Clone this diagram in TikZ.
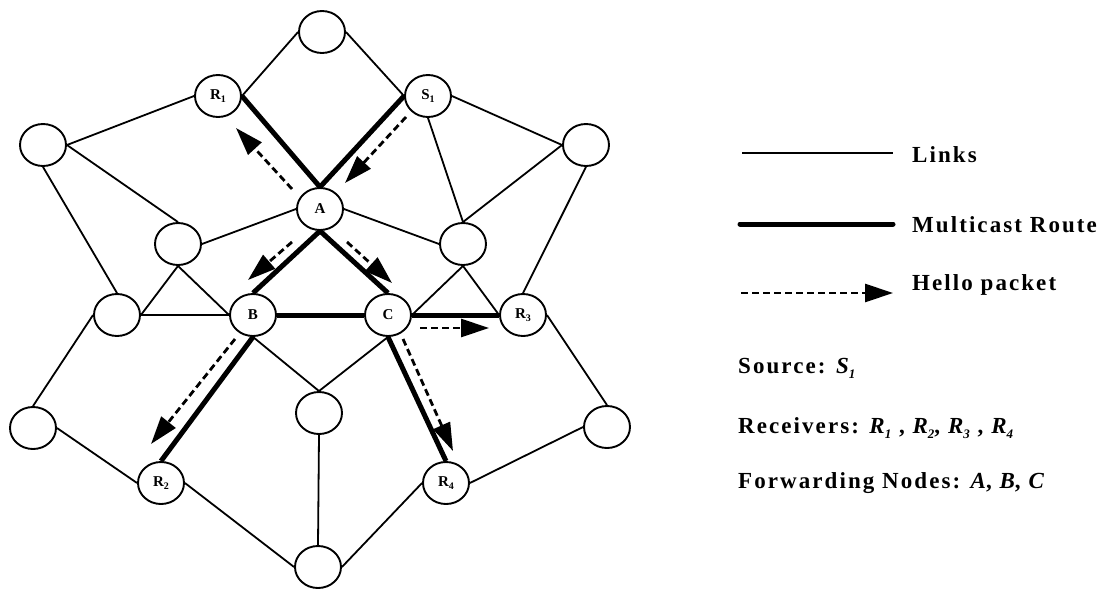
\documentclass[tikz,border=0pt]{standalone}
\usepackage{fontspec}
\setmainfont{Liberation Serif}
\newfontfamily\lgd[LetterSpace=9]{Liberation Serif}
\usetikzlibrary{shapes.geometric,arrows.meta}
\newcommand\lsub[1]{\raisebox{-0.5ex}{\fontsize{13}{13}\selectfont #1}}
\newcommand\nsub[1]{\raisebox{-0.5ex}{\fontsize{10}{10}\selectfont #1}}
\begin{document}
\begin{tikzpicture}[x=1pt,y=-1pt,
  nd/.style={ellipse,draw,line width=1.9pt,minimum width=46pt,minimum height=42pt,inner sep=0pt,
    font=\lgd\bfseries\fontsize{15}{15}\selectfont},
  link/.style={line width=1.8pt},
  route/.style={line width=5pt},
  hello/.style={line width=2.8pt,dash pattern=on 7pt off 4pt,-{Triangle[length=28pt,width=18pt]}},
  lbl/.style={anchor=base west,inner sep=0pt,font=\lgd\bfseries\fontsize{23}{23}\selectfont}]
\useasboundingbox (0,0) rectangle (1104,589);

% nodes
\node[nd] (T)   at (322,32)  {};
\node[nd] (R1)  at (218,96)  {R\nsub{1}};
\node[nd] (S1)  at (428,96)  {S\nsub{1}};
\node[nd] (L1)  at (43,145)  {};
\node[nd] (RF)  at (586,145) {};
\node[nd] (A)   at (320,209) {A};
\node[nd] (LI)  at (178,244) {};
\node[nd] (RI)  at (463,244) {};
\node[nd] (LM)  at (117,315) {};
\node[nd] (B)   at (253,315) {B};
\node[nd] (C)   at (388,315) {C};
\node[nd] (R3)  at (523,315) {R\nsub{3}};
\node[nd] (MB)  at (319,413) {};
\node[nd] (BLF) at (33,428)  {};
\node[nd] (BRF) at (607,427) {};
\node[nd] (R2)  at (161,483) {R\nsub{2}};
\node[nd] (R4)  at (446,483) {R\nsub{4}};
\node[nd] (Bot) at (318,567) {};

% links
\draw[link] (T.west) -- (R1.east);
\draw[link] (T.east) -- (S1.west);
\draw[link] (R1.west) -- (L1.east);
\draw[link] (S1.east) -- (RF.west);
\draw[link] (S1.south) -- (RI.north);
\draw[link] (L1.east) -- (LI.north);
\draw[link] (L1.south) -- (LM.north);
\draw[link] (A.west) -- (LI.east);
\draw[link] (A.east) -- (RI.west);
\draw[link] (LI.south) -- (LM.east);
\draw[link] (LI.south) -- (B.west);
\draw[link] (RF.west) -- (RI.north);
\draw[link] (RI.south) -- (C.east);
\draw[link] (RI.south) -- (R3.west);
\draw[link] (RF.south) -- (R3.north);
\draw[link] (R3.east) -- (BRF.north);
\draw[link] (LM.east) -- (B.west);
\draw[link] (LM.west) -- (BLF.north);
\draw[link] (B.south) -- (MB.north);
\draw[link] (C.south) -- (MB.north);
\draw[link] (BLF.east) -- (R2.west);
\draw[link] (R2.east) -- (Bot.west);
\draw[link] (MB.south) -- (Bot.north);
\draw[link] (R4.west) -- (Bot.east);
\draw[link] (R4.east) -- (BRF.west);

% multicast route
\draw[route] (R1.east) -- (A.north);
\draw[route] (S1.west) -- (A.north);
\draw[route] (A.south) -- (B.north);
\draw[route] (A.south) -- (C.north);
\draw[route] (B.east) -- (C.west);
\draw[route] (C.east) -- (R3.west);
\draw[route] (B.south) -- (R2.north);
\draw[route] (C.south) -- (R4.north);

% hello packets
\coordinate (h1a) at (292,189); \coordinate (h1b) at (236,128);
\coordinate (h2a) at (406,117); \coordinate (h2b) at (345,183);
\coordinate (h3a) at (292,242); \coordinate (h3b) at (248,280);
\coordinate (h4a) at (347,242); \coordinate (h4b) at (392,283);
\coordinate (h5a) at (235,339); \coordinate (h5b) at (151,444);
\coordinate (h6a) at (420,328); \coordinate (h6b) at (489,328);
\coordinate (h7a) at (403,339); \coordinate (h7b) at (453,451);
\draw[hello] (h1a) -- (h1b);
\draw[hello] (h2a) -- (h2b);
\draw[hello] (h3a) -- (h3b);
\draw[hello] (h4a) -- (h4b);
\draw[hello] (h5a) -- (h5b);
\draw[hello] (h6a) -- (h6b);
\draw[hello] (h7a) -- (h7b);

% legend
\coordinate (k1a) at (742,153); \coordinate (k1b) at (893,153);
\coordinate (k2a) at (740,224); \coordinate (k2b) at (893,224);
\coordinate (k3a) at (741,293); \coordinate (k3b) at (893,293);
\draw[link] (k1a) -- (k1b);
\draw[route,line cap=round] (k2a) -- (k2b);
\draw[hello] (k3a) -- (k3b);
\node[lbl] (t1) at (912,162) {Links};
\node[lbl] (t2) at (912,232) {Multicast Route};
\node[lbl] (t3) at (912,290) {Hello packet};
\node[lbl] (t4) at (738,373) {Source: {\itshape S}\lsub{\itshape 1}};
\node[lbl] (t5) at (738,433) {Receivers: {\itshape R}\lsub{\itshape 1} , {\itshape R}\lsub{\itshape 2}, {\itshape R}\lsub{\itshape 3} , {\itshape R}\lsub{\itshape 4}};
\node[lbl] (t6) at (738,488) {Forwarding Nodes: {\itshape A}, {\itshape B}, {\itshape C}};
\end{tikzpicture}
\end{document}
